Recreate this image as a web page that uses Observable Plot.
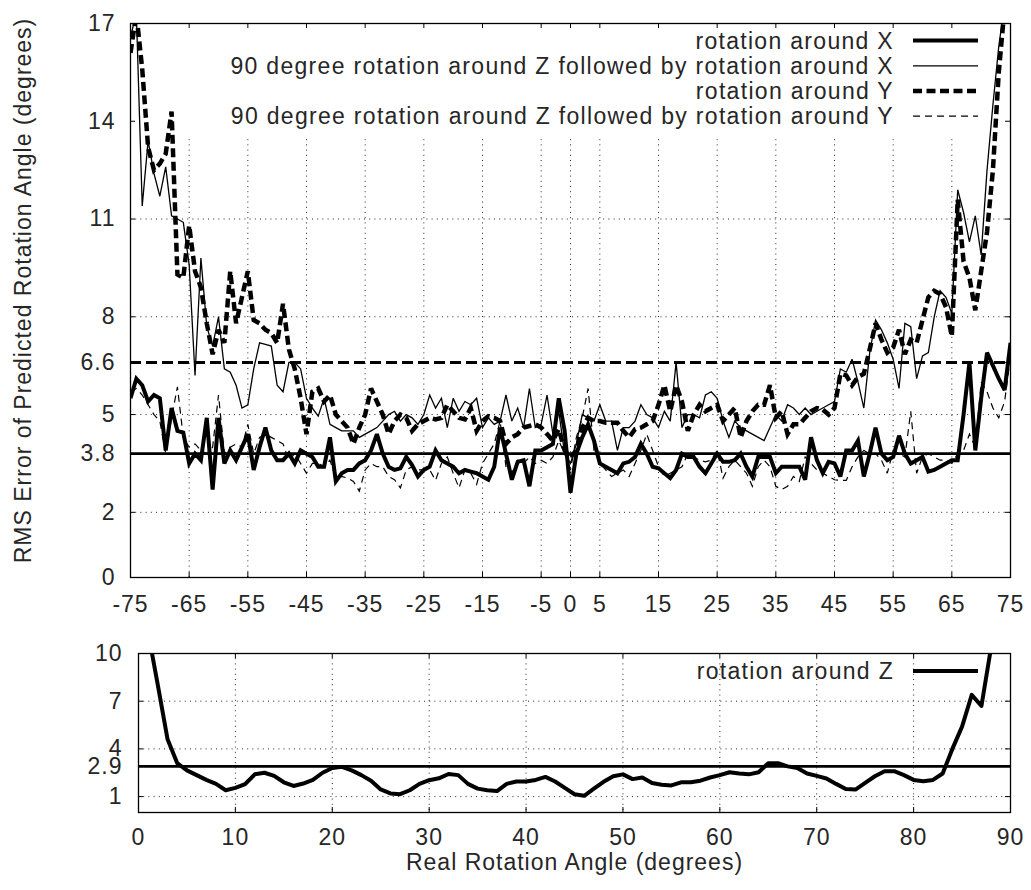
<!DOCTYPE html>
<html>
<head>
<meta charset="utf-8">
<script src="https://cdn.jsdelivr.net/npm/d3@7"></script>
<script src="https://cdn.jsdelivr.net/npm/@observablehq/plot@0.6"></script>
<style>
html, body { margin: 0; padding: 0; background: #fff; }
#chart svg { display: block; }
</style>
</head>
<body>
<div id="chart"></div>
<script>
// ---------------- DATA ----------------
// Top panel: angles -75..75 (1 degree step)
const topAngles = d3.range(-75, 76);

const rotX = [
  5.5, 6.1, 5.9, 5.4, 5.6, 5.5, 3.9, 5.2, 4.5, 4.45,
  3.5, 3.8, 3.6, 4.9, 2.7, 4.9, 3.5, 3.9, 3.6, 4.0,
  4.4, 3.3, 4.0, 4.6, 3.9, 3.6, 3.6, 3.8, 3.5, 3.9,
  3.8, 3.7, 3.4, 3.4, 4.3, 2.95, 3.2, 3.3, 3.3, 3.5,
  3.6, 3.9, 4.4, 3.8, 3.4, 3.3, 3.35, 3.7, 3.45, 3.1,
  3.3, 3.4, 3.9, 3.6, 3.5, 3.4, 3.2, 3.3, 3.25, 3.2,
  3.1, 3.0, 3.4, 4.6, 3.8, 3.0, 3.55, 3.6, 2.8, 3.9,
  3.9, 4.0, 4.1, 5.5, 4.5, 2.6, 3.8, 4.3, 4.7, 4.2,
  3.5, 3.4, 3.3, 3.2, 3.5, 3.55, 3.7, 4.1, 3.8, 3.4,
  3.35, 3.2, 3.05, 3.3, 3.8, 3.7, 3.7, 3.4, 3.2, 3.5,
  3.8, 3.55, 3.55, 3.6, 3.8, 3.4, 3.1, 3.7, 3.7, 3.7,
  3.2, 3.4, 3.4, 3.4, 3.4, 3.0, 4.3, 3.6, 3.2, 3.55,
  3.5, 3.1, 3.9, 3.9, 4.2, 3.1, 3.8, 4.6, 3.8, 3.6,
  3.7, 4.35, 3.8, 3.5, 3.6, 3.7, 3.25, 3.3, 3.4, 3.5,
  3.6, 3.6, 5.0, 6.6, 3.9, 5.5, 6.9, 6.5, 6.1, 5.75,
  7.2
];

const rotXviaZ = [
  16.6, 17.3, 11.4, 13.4, 12.4, 11.7, 12.6, 11.1, 11.0, 10.9,
  9.6, 6.2, 9.8, 7.7, 7.1, 8.0, 6.4, 6.3, 5.9, 5.2,
  5.3, 6.4, 7.2, 7.15, 7.1, 5.9, 5.7, 6.6, 6.6, 6.4,
  5.5, 5.2, 4.95, 5.5, 4.7, 4.6, 4.5, 4.5, 4.5, 4.3,
  4.4, 4.5, 4.6, 4.8, 5.0, 5.1, 4.8, 5.0, 4.9, 4.7,
  5.0, 5.6, 5.2, 5.5, 4.6, 5.5, 5.1, 5.4, 5.3, 5.5,
  4.6, 4.9, 4.7, 4.8, 5.6, 4.8, 5.2, 4.6, 5.8, 4.6,
  4.7, 5.6, 4.4, 5.1, 3.8, 3.5, 4.1, 5.0, 4.9, 4.8,
  5.3, 4.8, 4.8, 3.9, 4.6, 4.6, 4.8, 5.3, 5.0, 4.9,
  4.6, 5.1, 4.8, 6.6, 4.6, 5.0, 5.0, 4.9, 5.6, 5.7,
  5.5, 4.8, 4.3, 4.8, 4.6, 4.5, 4.4, 4.3, 4.2, 4.6,
  5.0, 4.8, 5.3, 5.2, 5.0, 5.2, 5.0, 5.1, 5.2, 5.3,
  5.4, 6.4, 6.3, 6.7, 6.0, 5.2, 6.9, 7.9, 7.6, 7.2,
  6.7, 5.8, 7.8, 7.7, 6.1, 6.8, 6.9, 8.0, 8.8, 8.6,
  8.1, 11.9, 11.2, 10.3, 11.1, 9.9, 12.5, 14.5, 16.3, 17.6,
  19.0
];

const rotY = [
  16.1, 17.3, 15.6, 13.2, 12.5, 12.7, 13.0, 14.3, 9.3, 9.2,
  10.8, 9.4, 8.9, 7.8, 6.85, 7.6, 7.2, 9.4, 7.8, 8.6,
  9.4, 7.9, 7.8, 7.6, 7.5, 7.2, 8.4, 7.0, 6.4, 5.5,
  4.4, 5.7, 5.8, 5.4, 5.6, 5.0, 4.8, 4.6, 4.1, 4.6,
  5.0, 5.8, 5.4, 5.0, 4.4, 4.8, 5.0, 4.9, 4.5, 4.7,
  4.8, 4.9, 4.85, 4.9, 5.3, 5.1, 4.9, 4.85, 5.2, 4.5,
  4.8, 4.95, 4.9, 4.8, 4.1, 4.3, 4.4, 4.6, 4.65, 4.7,
  4.6, 4.4, 4.2, 4.55, 3.9, 3.7, 3.9, 4.6, 4.9, 4.8,
  4.8, 4.75, 4.75, 4.75, 4.5, 4.3, 4.55, 4.6, 4.7, 4.8,
  5.3, 5.9, 5.1, 5.9, 5.4, 4.5, 5.0, 5.3, 5.1, 5.2,
  5.3, 4.8, 5.0, 5.2, 4.3, 4.8, 5.1, 5.3, 5.3, 5.9,
  4.9, 5.1, 4.4, 4.7, 4.7, 4.9, 5.1, 5.2, 5.15, 5.0,
  5.2, 6.25, 6.2, 5.9, 6.15, 6.25, 7.0, 7.8, 7.3, 6.9,
  7.06, 7.6, 6.85, 7.3, 7.2, 7.9, 8.6, 8.8, 8.7, 8.3,
  7.4, 11.6, 9.7, 9.2, 8.2, 9.4, 10.6, 12.5, 15.5, 17.5,
  19.0
];

const rotYviaZ = [
  5.7, 5.8, 5.6, 5.3, 5.0, 4.8, 3.8, 4.9, 5.85, 4.3,
  4.0, 4.1, 3.9, 3.8, 4.0, 5.6, 3.8, 4.0, 4.1, 4.0,
  4.7, 3.8, 4.3, 4.4, 4.3, 4.2, 4.1, 3.6, 3.8, 3.5,
  3.2, 3.5, 3.5, 3.4, 3.6, 3.05, 3.1, 3.05, 2.95, 2.65,
  3.3, 3.5, 3.4, 3.4, 3.1, 3.0, 2.75, 3.3, 3.4, 3.3,
  3.3, 3.3, 2.98, 3.5, 3.7, 3.2, 2.75, 3.3, 3.2, 2.86,
  3.5, 3.8, 4.1, 4.8, 3.4, 3.2, 3.6, 3.5, 3.7, 3.5,
  3.6, 3.5, 3.7, 4.2, 3.8, 3.3, 4.3, 4.9, 5.8, 3.9,
  3.5, 3.3, 3.1, 3.2, 3.3, 3.1, 3.5, 3.9, 4.4, 3.9,
  3.4, 3.1, 3.2, 3.3, 3.4, 3.8, 3.7, 3.6, 3.55, 3.6,
  3.9, 3.05, 3.4, 3.6, 3.4, 3.2, 2.8, 3.4, 3.6, 3.4,
  2.8, 2.7, 2.8, 3.1, 2.95, 3.7, 3.5, 3.3, 3.2, 3.1,
  3.0, 2.98, 2.98, 3.4, 3.7, 3.9, 3.8, 3.8, 3.6, 3.2,
  3.9, 3.8, 3.7, 5.1, 3.2, 3.7, 3.8, 3.7, 3.6, 3.6,
  3.5, 3.8, 3.9, 4.4, 4.0, 6.0, 5.7, 5.2, 4.9, 5.4,
  6.8
];

const topRefLevels = [6.6, 3.8];
const topXTicks = [-75, -65, -55, -45, -35, -25, -15, -5, 0, 5, 15, 25, 35, 45, 55, 65, 75];
const topYTicks = [0, 2, 3.8, 5, 6.6, 8, 11, 14, 17];
const topGridX = [-65, -55, -45, -35, -25, -15, -5, 0, 5, 15, 25, 35, 45, 55, 65];
const topGridY = [2, 5, 8, 11];
const topLegendLabels = [
  "rotation around X",
  "90 degree rotation around Z followed by rotation around X",
  "rotation around Y",
  "90 degree rotation around Z followed by rotation around Y"
];

// Bottom panel: angles 0..90 (1 degree step)
const zAngles = d3.range(0, 91);
const rotZ = [
  16, 11.3, 8.0, 4.6, 3.1, 2.65, 2.35, 2.05, 1.8, 1.4,
  1.55, 1.78, 2.4, 2.5, 2.3, 1.9, 1.67, 1.82, 2.05, 2.5,
  2.8, 2.87, 2.65, 2.35, 2.0, 1.45, 1.2, 1.15, 1.4, 1.8,
  2.03, 2.15, 2.42, 2.35, 1.8, 1.5, 1.4, 1.35, 1.8, 1.95,
  1.95, 2.05, 2.24, 1.95, 1.55, 1.15, 1.05, 1.5, 1.93, 2.28,
  2.4, 2.1, 2.2, 1.85, 1.75, 1.7, 1.9, 1.9, 2.0, 2.2,
  2.35, 2.53, 2.45, 2.4, 2.53, 3.1, 3.1, 2.9, 2.8, 2.45,
  2.3, 2.14, 1.8, 1.48, 1.44, 1.86, 2.28, 2.6, 2.6, 2.35,
  2.05, 1.97, 2.05, 2.45, 4.0, 5.4, 7.4, 6.7, 10.4, 15,
  20
];
const bottomRefLevels = [2.9];
const bottomXTicks = [0, 10, 20, 30, 40, 50, 60, 70, 80, 90];
const bottomYTicks = [1, 2.9, 4, 7, 10];
const bottomGridX = [10, 20, 30, 40, 50, 60, 70, 80];
const bottomGridY = [1, 4, 7];
const bottomLegendLabels = ["rotation around Z"];

const yTitle = "RMS Error of Predicted Rotation Angle (degrees)";
const xTitle = "Real Rotation Angle (degrees)";

// ---------------- STYLES / LAYOUT ----------------
const FONT = "'Liberation Sans', Arial, Helvetica, sans-serif";
const INK = "#262626";
const baseStyle = {
  fontFamily: FONT, fontSize: "23px", letterSpacing: "1px",
  color: INK, background: "#fff", overflow: "visible"
};
const W = 1031;
const tickLen = 5;
const gridStyle = {stroke: "#000", strokeWidth: 1, strokeDasharray: "1,4.2", strokeOpacity: 0.85};
const topGridCeiling = 13.5;

const thickSolid = {stroke: "#000", strokeWidth: 4, strokeLinejoin: "miter", strokeMiterlimit: 3, strokeLinecap: "butt"};
const thinSolid = {stroke: "#000", strokeWidth: 1.3, strokeLinejoin: "miter", strokeMiterlimit: 3, strokeLinecap: "butt"};
const thickDash = {stroke: "#000", strokeWidth: 4.5, strokeDasharray: "9,4.5", strokeLinejoin: "miter", strokeMiterlimit: 3, strokeLinecap: "butt"};
const thinDash = {stroke: "#000", strokeWidth: 1.2, strokeDasharray: "7,5", strokeLinejoin: "miter", strokeMiterlimit: 3, strokeLinecap: "butt"};
const topLegendStyles = [thickSolid, thinSolid, thickDash, thinDash];

function drawLegend(svg, labels, styles, frameRight, firstY, step) {
  const g = d3.select(svg).append("g").attr("class", "legend").style("letter-spacing", "1.3px");
  labels.forEach((label, i) => {
    const y = firstY + i * step;
    g.append("text")
      .attr("x", frameRight - 116).attr("y", y).attr("dy", "0.36em")
      .attr("text-anchor", "end").attr("fill", INK)
      .text(label);
    const s = styles[i];
    g.append("line")
      .attr("x1", frameRight - 97).attr("x2", frameRight - 32)
      .attr("y1", y).attr("y2", y)
      .attr("stroke", s.stroke).attr("stroke-width", s.strokeWidth)
      .attr("stroke-dasharray", s.strokeDasharray || null);
  });
}

// ---------------- TOP PANEL ----------------
const topM = {top: 23, right: 21, bottom: 48, left: 130};
const topH = 625;
const topInnerW = W - topM.left - topM.right;
const topInnerH = topH - topM.top - topM.bottom;

const topSeries = [rotX, rotXviaZ, rotY, rotYviaZ];

const topSvg = Plot.plot({
  width: W, height: topH,
  marginTop: topM.top, marginRight: topM.right, marginBottom: topM.bottom, marginLeft: topM.left,
  x: {domain: [-75, 75], label: null},
  y: {domain: [0, 17], label: null},
  style: baseStyle,
  marks: [
    Plot.ruleX(topGridX, {x: d => d, y1: 0, y2: topGridCeiling, ...gridStyle}),
    Plot.ruleY(topGridY, {y: d => d, ...gridStyle}),
    Plot.ruleY([topRefLevels[0]], {y: d => d, stroke: "#000", strokeWidth: 3, strokeDasharray: "11,5"}),
    Plot.ruleY([topRefLevels[1]], {y: d => d, stroke: "#000", strokeWidth: 2.6}),
    ...topSeries.map((vals, k) =>
      Plot.line(topAngles, {x: d => d, y: (d, i) => vals[i], clip: true, ...topLegendStyles[k]})
    ),
    Plot.frame({stroke: "#000", strokeWidth: 1.3}),
    Plot.tickX(topXTicks, {x: d => d, insetTop: topInnerH - tickLen, stroke: "#000"}),
    Plot.tickX(topXTicks, {x: d => d, insetBottom: topInnerH - tickLen, stroke: "#000"}),
    Plot.tickY(topYTicks, {y: d => d, insetRight: topInnerW - tickLen, stroke: "#000"}),
    Plot.tickY(topYTicks, {y: d => d, insetLeft: topInnerW - tickLen, stroke: "#000"}),
    Plot.axisX(topXTicks, {tickSize: 0, tickPadding: 18, tickFormat: d => String(d), label: null}),
    Plot.axisY(topYTicks, {tickSize: 0, tickPadding: 15, tickFormat: d => String(d), label: null}),
    Plot.text([yTitle], {text: d => d, frameAnchor: "left", dx: -107, dy: -10, rotate: -90,
      textAnchor: "middle", lineAnchor: "middle", fill: INK})
  ]
});
drawLegend(topSvg, topLegendLabels, topLegendStyles, W - topM.right, topM.top + 17.6, 25.2);

// ---------------- BOTTOM PANEL ----------------
const botM = {top: 28, right: 21, bottom: 78, left: 138};
const botH = 265;
const botInnerW = W - botM.left - botM.right;
const botInnerH = botH - botM.top - botM.bottom;

const botSvg = Plot.plot({
  width: W, height: botH,
  marginTop: botM.top, marginRight: botM.right, marginBottom: botM.bottom, marginLeft: botM.left,
  x: {domain: [0, 90], label: null},
  y: {domain: [0, 10], label: null},
  style: baseStyle,
  marks: [
    Plot.ruleX(bottomGridX, {x: d => d, ...gridStyle}),
    Plot.ruleY(bottomGridY, {y: d => d, ...gridStyle}),
    Plot.ruleY(bottomRefLevels, {y: d => d, stroke: "#000", strokeWidth: 2.6}),
    Plot.line(zAngles, {x: d => d, y: (d, i) => rotZ[i], clip: true, ...thickSolid, strokeLinejoin: "round"}),
    Plot.frame({stroke: "#000", strokeWidth: 1.3}),
    Plot.tickX(bottomXTicks, {x: d => d, insetTop: botInnerH - tickLen, stroke: "#000"}),
    Plot.tickX(bottomXTicks, {x: d => d, insetBottom: botInnerH - tickLen, stroke: "#000"}),
    Plot.tickY(bottomYTicks, {y: d => d, insetRight: botInnerW - tickLen, stroke: "#000"}),
    Plot.tickY(bottomYTicks, {y: d => d, insetLeft: botInnerW - tickLen, stroke: "#000"}),
    Plot.axisX(bottomXTicks, {tickSize: 0, tickPadding: 16, tickFormat: d => String(d), label: null}),
    Plot.axisY(bottomYTicks, {tickSize: 0, tickPadding: 16, tickFormat: d => String(d), label: null}),
    Plot.text([xTitle], {text: d => d, frameAnchor: "bottom", dy: 41, lineAnchor: "top", fill: INK})
  ]
});
drawLegend(botSvg, bottomLegendLabels, [thickSolid], W - botM.right, botM.top + 18, 25.2);

const chart = document.getElementById("chart");
chart.appendChild(topSvg);
chart.appendChild(botSvg);
</script>
</body>
</html>
